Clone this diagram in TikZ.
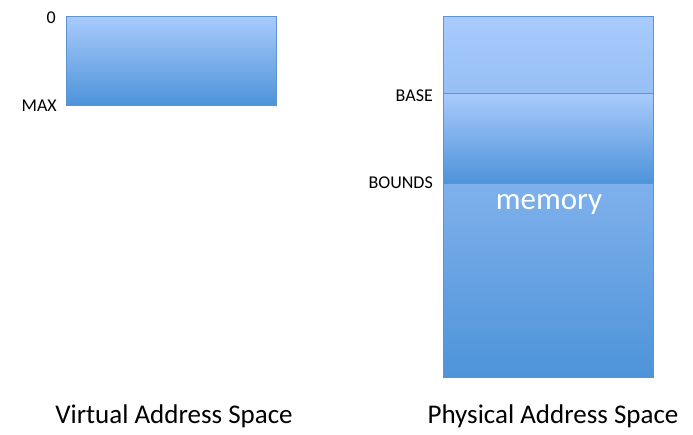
\documentclass[tikz,border=0pt]{standalone}
\usepackage{fontspec}
\setmainfont{Carlito}
\usetikzlibrary{shadows}
\definecolor{lighttop}{HTML}{A9CBFC}
\definecolor{darkbot}{HTML}{4E93D9}
\definecolor{edgeblue}{HTML}{5E93D3}
\begin{document}
\begin{tikzpicture}[x=1pt,y=-1pt,
  block/.style={draw=edgeblue, line width=0.8pt, rectangle, inner sep=0pt, outer sep=0pt,
    top color=lighttop, bottom color=darkbot, minimum width=210pt,
    drop shadow={shadow xshift=0.6pt, shadow yshift=-1.2pt, opacity=0.25}},
  small/.style={font=\fontsize{18}{20}\selectfont, anchor=east, inner sep=0pt},
  caption/.style={font=\fontsize{27}{30}\selectfont, inner sep=0pt}]
\useasboundingbox[fill=white] (0,0) rectangle (693,434);
\node[block, minimum height=89pt] (virt) at (171,60.5) {};
\node[block, minimum height=361pt] (mem) at (548,196.5) {};
\node[block, minimum height=90pt] (proc) at (548,138) {};
\node[font=\fontsize{31}{34}\selectfont, text=white, inner sep=0pt] (memlbl) at (549,204) {memory};
\node[small] (zero) at (56,18) {0};
\node[small] (max) at (57,106) {MAX};
\node[small] (base) at (433,96) {BASE};
\node[small] (bounds) at (433,183) {BOUNDS};
\node[caption] (vas) at (174,416) {Virtual Address Space};
\node[caption] (pas) at (553,416) {Physical Address Space};
\end{tikzpicture}
\end{document}
